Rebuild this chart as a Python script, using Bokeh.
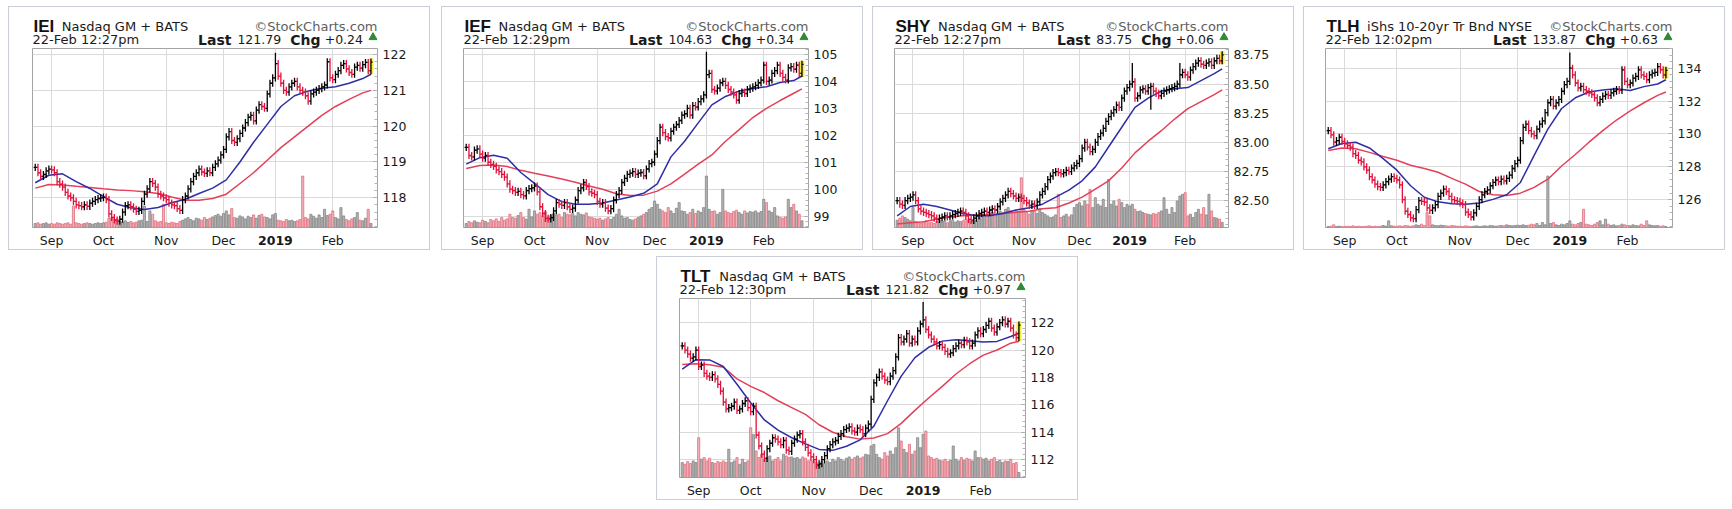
from bokeh.plotting import figure
from bokeh.models import (Range1d, FixedTicker, SingleIntervalTicker, NumeralTickFormatter,
                          Spacer, ColumnDataSource)
from bokeh.layouts import row, column
from bokeh.embed import file_html
from bokeh.resources import INLINE
from bokeh.core.properties import value

# ---------------- data ----------------
# trading-day index 0..123  (24-Aug-2018 .. 22-Feb-2019)
MONTH_TICKS = [6, 25, 48, 69, 88, 109]
MONTH_LABELS = ["Sep", "Oct", "Nov", "Dec", "2019", "Feb"]
MA_IDX = [0, 5, 10, 15, 20, 25, 30, 35, 40, 45, 50, 55, 60, 65, 70, 75, 80, 85, 90, 95,
          100, 105, 110, 115, 120, 123]

IEI_CLOSE = [118.85, 118.70, 118.60, 118.65, 118.75, 118.80,
             118.78, 118.70, 118.45, 118.38, 118.30, 118.15, 118.05, 118.00, 117.90, 117.80,
             117.78, 117.75, 117.80, 117.76, 117.85, 117.90, 117.95, 117.98, 118.00,
             118.02, 117.95, 117.55, 117.45, 117.38, 117.35, 117.40, 117.60, 117.78, 117.80,
             117.75, 117.68, 117.62, 117.65, 117.90, 118.10, 118.25, 118.45, 118.40, 118.30,
             118.10, 118.05, 118.00,
             117.95, 117.85, 117.80, 117.78, 117.70, 117.65, 117.95, 118.05, 118.25, 118.45,
             118.60, 118.70, 118.80, 118.72, 118.68, 118.75, 118.70, 118.85, 118.95, 119.05, 119.20,
             119.35, 119.70, 119.85, 119.60, 119.55, 119.65, 119.80, 119.95, 120.10, 120.25,
             120.30, 120.15, 120.45, 120.60, 120.55, 120.50, 120.90, 121.20, 121.35,
             121.75, 121.40, 121.20, 121.00, 120.95, 121.10, 121.20, 121.25, 121.10, 121.00,
             120.95, 120.85, 120.70, 120.90, 120.95, 121.00, 121.05, 121.10, 121.15, 121.80, 121.35,
             121.30, 121.45, 121.55, 121.70, 121.75, 121.60, 121.50, 121.45, 121.65, 121.70,
             121.62, 121.72, 121.78, 121.55, 121.79]
IEI_VOL = [120, 140, 100, 120, 140, 100,
           120, 100, 140, 120, 100, 120, 140, 100, 650, 140, 120, 100, 120, 140, 120, 100, 120, 140, 120,
           140, 160, 280, 300, 240, 260, 180, 160, 200, 150, 180, 140, 160, 200, 220, 650, 180, 500,
           400, 200, 160, 180, 700,
           140, 120, 160, 140, 120, 180, 220, 260, 300, 240, 200, 280, 260, 220, 300, 240, 280, 320,
           360, 400, 340,
           420, 500, 380, 570, 300, 280, 350, 320, 260, 340, 300, 380, 280, 360, 400, 320, 300, 260, 380,
           420, 220, 200, 180, 240, 200, 220, 180, 200, 240, 1550, 300, 260, 400, 340, 280, 380, 300,
           550, 360, 400,
           500, 300, 260, 600, 350, 240, 200, 260, 300, 450, 220, 200, 280, 550, 120]
IEI_MA20 = [118.42, 118.63, 118.67, 118.45, 118.26, 118.03, 117.82, 117.72, 117.67, 117.73,
            117.86, 117.96, 118.12, 118.27, 118.50, 119.00, 119.55, 120.05, 120.55, 120.85,
            120.98, 121.06, 121.10, 121.20, 121.33, 121.45]
IEI_MA50 = [118.27, 118.37, 118.36, 118.32, 118.29, 118.25, 118.22, 118.20, 118.17, 118.12,
            118.02, 117.93, 117.93, 117.98, 118.10, 118.40, 118.70, 119.05, 119.40, 119.70,
            120.00, 120.30, 120.55, 120.75, 120.93, 121.00]
IEI_SPIKES = {88: 122.05}

IEF_CLOSE = [101.55, 101.25, 101.20, 101.45, 101.50, 101.30,
             101.15, 101.25, 101.00, 100.92, 100.85, 100.72, 100.65, 100.55, 100.45, 100.20,
             100.00, 99.95, 99.88, 99.92, 99.80, 99.75, 99.95, 100.02, 100.05,
             100.12, 99.90, 99.35, 99.10, 98.92, 98.90, 98.95, 99.20, 99.50, 99.45, 99.40, 99.50,
             99.35, 99.25, 99.30, 99.60, 99.95, 100.05, 100.25, 100.10, 99.90, 99.85, 99.80,
             99.55, 99.45, 99.50, 99.30, 99.20, 99.28, 99.60, 99.80, 99.95, 100.25, 100.40, 100.55,
             100.60, 100.65, 100.55, 100.60, 100.62, 100.50, 100.75, 100.95, 101.00,
             101.30, 101.80, 102.30, 102.10, 101.95, 101.90, 102.15, 102.30, 102.40, 102.55,
             102.75, 102.80, 103.00, 102.75, 103.10, 103.05, 103.25, 103.35, 103.50,
             104.25, 104.30, 103.70, 103.65, 103.75, 103.95, 104.00, 103.85, 103.70, 103.60,
             103.50, 103.30, 103.55, 103.60, 103.55, 103.70, 103.75, 103.80, 103.85, 103.95, 104.05,
             104.60, 104.00, 104.05, 104.30, 104.40, 104.60, 104.30, 104.15, 104.05, 104.50,
             104.55, 104.45, 104.60, 104.30, 104.63]
IEF_VOL = [120, 180, 140, 200, 160, 140,
           220, 180, 140, 240, 200, 260, 180, 300, 220, 260, 400, 300, 280, 360, 450, 300, 250, 550, 320,
           500, 400, 450, 350, 480, 300, 360, 420, 380, 400, 300, 450, 400, 380, 420, 350, 450, 400,
           380, 440, 320, 300, 280,
           250, 280, 220, 260, 300, 240, 300, 400, 550, 350, 280, 300, 240, 220, 260, 300, 350, 400,
           450, 550, 600,
           800, 700, 550, 500, 450, 600, 500, 420, 580, 750, 500, 480, 400, 450, 550, 420, 500, 450, 600,
           1550, 550, 480, 500, 400, 450, 1150, 500, 450, 420, 480, 520, 450, 400, 500, 440, 480, 460,
           500, 440, 480,
           850, 750, 500, 450, 600, 350, 300, 280, 320, 850, 600, 700, 500, 400, 200]
IEF_MA20 = [100.93, 101.17, 101.26, 101.15, 100.62, 100.22, 99.80, 99.54, 99.44, 99.44,
            99.49, 99.60, 99.71, 99.85, 100.20, 101.20, 101.78, 102.46, 103.13, 103.44,
            103.64, 103.74, 103.80, 103.96, 104.03, 104.20]
IEF_MA50 = [100.77, 100.88, 100.90, 100.84, 100.70, 100.59, 100.49, 100.38, 100.26, 100.12,
            100.00, 99.83, 99.77, 99.78, 99.93, 100.20, 100.56, 100.93, 101.27, 101.78,
            102.21, 102.66, 103.00, 103.29, 103.56, 103.72]
IEF_SPIKES = {88: 105.10}

SHY_CLOSE = [82.50, 82.47, 82.46, 82.50, 82.52, 82.53,
             82.55, 82.50, 82.43, 82.41, 82.40, 82.39, 82.38, 82.37, 82.35, 82.34, 82.35, 82.36,
             82.37, 82.36, 82.37, 82.38, 82.39, 82.40, 82.41,
             82.40, 82.37, 82.34, 82.33, 82.35, 82.37, 82.39, 82.40, 82.41, 82.40, 82.42, 82.43,
             82.42, 82.45, 82.49, 82.52, 82.55, 82.58, 82.56, 82.54, 82.52, 82.53, 82.52,
             82.50, 82.48, 82.46, 82.47, 82.46, 82.49, 82.55, 82.58, 82.62, 82.68, 82.71, 82.74,
             82.75, 82.74, 82.73, 82.74, 82.76, 82.75, 82.78, 82.80, 82.82,
             82.86, 82.95, 83.00, 82.96, 82.92, 82.94, 83.00, 83.05, 83.08, 83.12, 83.18, 83.22,
             83.25, 83.28, 83.32, 83.30, 83.38, 83.44, 83.47,
             83.50, 83.52, 83.38, 83.40, 83.45, 83.46, 83.44, 83.47, 83.48, 83.44, 83.42, 83.40,
             83.42, 83.44, 83.45, 83.46, 83.47, 83.48, 83.50, 83.58, 83.60,
             83.58, 83.56, 83.62, 83.65, 83.68, 83.70, 83.67, 83.66, 83.68, 83.69, 83.66, 83.70,
             83.72, 83.70, 83.75]
SHY_VOL = [220, 280, 350, 300, 250, 200,
           600, 180, 150, 120, 180, 200, 140, 160, 120, 180, 220, 150, 200, 140, 180, 220, 160, 200, 180,
           200, 250, 220, 180, 240, 200, 300, 350, 400, 380, 420, 450, 350, 400, 500, 450, 550, 600,
           500, 450, 520, 480, 1500,
           550, 450, 400, 480, 500, 420, 580, 450, 400, 350, 300, 320, 380, 1000, 300, 350, 400, 320,
           380, 600, 700,
           750, 650, 800, 700, 1150, 600, 900, 700, 650, 850, 600, 1450, 700, 800, 650, 850, 750, 600, 700,
           650, 700, 550, 480, 500, 450, 420, 400, 380, 420, 400, 450, 500, 900, 550, 400, 600, 450,
           800, 950, 1000,
           1050, 350, 400, 300, 450, 550, 400, 600, 380, 1000, 500, 300, 280, 250, 150]
SHY_MA20 = [82.37, 82.45, 82.47, 82.45, 82.42, 82.39, 82.37, 82.37, 82.39, 82.42,
            82.44, 82.47, 82.53, 82.59, 82.67, 82.79, 82.96, 83.13, 83.30, 83.38,
            83.44, 83.46, 83.47, 83.53, 83.59, 83.63]
SHY_MA50 = [82.30, 82.31, 82.32, 82.34, 82.36, 82.37, 82.38, 82.38, 82.39, 82.40,
            82.41, 82.43, 82.44, 82.48, 82.53, 82.60, 82.67, 82.78, 82.91, 83.01,
            83.10, 83.20, 83.29, 83.35, 83.41, 83.45]
SHY_SPIKES = {89: 83.68, 96: 83.28, 107: 83.68}

TLH_CLOSE = [130.20, 129.95, 129.50, 129.60, 129.80, 129.55,
             129.40, 129.30, 129.20, 128.80, 128.70, 128.40, 128.30, 128.00, 127.80, 127.40,
             127.20, 126.95, 126.80, 126.75, 126.90, 127.10, 127.25, 127.40, 127.30,
             127.20, 126.90, 126.00, 125.30, 125.10, 124.90, 124.85, 125.40, 125.95, 125.90,
             125.85, 125.50, 125.35, 125.50, 125.70, 126.20, 126.40, 126.65, 126.50, 126.20,
             126.00, 125.95, 125.90,
             125.80, 125.70, 125.25, 125.10, 124.95, 125.20, 125.60, 126.00, 126.30, 126.50,
             126.60, 126.85, 127.05, 127.20, 127.10, 127.25, 127.15, 127.30, 127.50, 127.90, 128.20,
             128.40, 129.60, 130.40, 130.60, 130.20, 130.00, 129.90, 130.30, 130.60, 130.80,
             131.30, 131.90, 132.10, 131.70, 131.90, 132.10, 132.60, 133.00, 133.20,
             134.00, 133.60, 133.10, 132.80, 132.90, 132.70, 132.60, 132.50, 132.40, 132.20,
             131.90, 132.10, 132.30, 132.40, 132.35, 132.50, 132.60, 132.70, 132.65, 133.90, 133.20,
             133.00, 133.10, 133.40, 133.50, 133.90, 133.60, 133.50, 133.30, 133.60, 133.70,
             133.75, 134.10, 133.90, 133.60, 133.87]
TLH_VOL = [30, 40, 80, 30, 40, 30,
           30, 40, 30, 50, 30, 40, 30, 30, 40, 50, 30, 40, 30, 40, 60, 40, 200, 50, 40,
           40, 50, 40, 60, 50, 40, 50, 80, 60, 100, 60, 450, 350, 80, 60, 50, 70, 60, 50, 40, 60, 50, 40,
           40, 30, 50, 40, 30, 40, 50, 30, 40, 50, 40, 60, 50, 40, 50, 60, 50, 80, 60, 50, 60,
           70, 60, 80, 60, 70, 100, 80, 120, 60, 150, 80, 1550, 120, 150, 80, 60, 100, 80, 120,
           200, 100, 80, 120, 150, 550, 100, 80, 60, 100, 150, 200, 80, 250, 100, 60, 80, 50, 60, 100, 80,
           60, 50, 80, 60, 50, 100, 60, 200, 80, 60, 50, 60, 40, 50, 30]
TLH_MA20 = [129.10, 129.42, 129.50, 129.15, 128.50, 127.80, 126.85, 126.15, 125.87, 125.75,
            125.72, 125.80, 126.02, 126.30, 127.05, 128.70, 130.30, 131.55, 132.20, 132.55,
            132.68, 132.75, 132.65, 132.88, 133.04, 133.30]
TLH_MA50 = [128.99, 129.15, 129.10, 128.88, 128.63, 128.40, 128.10, 127.90, 127.67, 127.30,
            126.95, 126.50, 126.30, 126.26, 126.40, 126.75, 127.25, 128.05, 128.75, 129.50,
            130.20, 130.85, 131.40, 131.90, 132.35, 132.55]
TLH_SPIKES = {88: 134.95}

TLT_CLOSE = [120.30, 120.00, 119.70, 119.40, 119.50, 120.00,
             118.80, 118.90, 118.30, 118.10, 118.00, 118.20, 117.90, 117.50, 117.00, 116.20,
             115.70, 115.80, 115.90, 116.20, 115.60, 115.70, 116.10, 116.30, 115.80,
             115.50, 115.90, 113.80, 113.00, 112.40, 112.10, 112.80, 113.20, 113.60, 113.50,
             113.30, 113.10, 113.40, 112.70, 112.60, 113.20, 113.50, 113.80, 113.90, 113.30,
             112.90, 112.50, 112.20,
             112.00, 111.60, 111.70, 112.00, 112.30, 112.80, 113.10, 113.30, 113.40, 113.70,
             113.90, 114.20, 114.30, 114.40, 114.10, 114.00, 114.30, 114.20, 113.90, 114.30, 114.60,
             116.40, 117.60, 118.00, 118.40, 118.10, 117.80, 117.70, 118.10, 118.50, 119.50,
             120.90, 120.60, 120.80, 121.20, 120.50, 120.80, 120.60, 121.40, 121.90,
             122.20, 121.50, 121.10, 120.80, 120.60, 120.30, 120.40, 120.20, 119.90, 119.70,
             119.80, 120.10, 120.30, 120.50, 120.40, 120.70, 120.60, 120.30, 120.50, 121.10, 121.40,
             121.20, 121.50, 121.80, 122.10, 121.60, 121.30, 121.70, 122.00, 122.20, 121.90,
             122.10, 121.60, 121.10, 120.90, 121.82]
TLT_VOL = [450, 400, 480, 420, 500, 450,
           1200, 550, 600, 500, 580, 450, 420, 480, 450, 500, 450, 850, 450, 500, 600, 400, 550, 450, 500,
           1500, 1300, 800, 600, 700, 550, 600, 650, 500, 550, 600, 500, 700, 650, 600, 620, 580, 600,
           550, 620, 580, 500, 520,
           500, 450, 400, 480, 420, 500, 450, 550, 500, 600, 550, 500, 580, 620, 550, 600, 650, 580,
           620, 700, 680,
           950, 1000, 700, 600, 550, 750, 650, 800, 700, 900, 1500, 1100, 850, 750, 1000, 700, 800, 1200, 900,
           1300, 1400, 650, 600, 550, 580, 520, 500, 550, 480, 520, 950, 550, 500, 600, 520, 580, 550,
           500, 800, 600,
           600, 550, 580, 500, 550, 600, 480, 520, 450, 500, 480, 550, 420, 450, 150]
TLT_MA20 = [118.60, 119.30, 119.28, 118.80, 117.50, 116.15, 114.90, 114.15, 113.60, 113.15,
            112.75, 112.68, 112.98, 113.45, 114.45, 116.30, 118.10, 119.45, 120.20, 120.65,
            120.75, 120.68, 120.58, 120.63, 120.99, 121.23]
TLT_MA50 = [118.94, 119.00, 118.92, 118.75, 117.90, 117.35, 116.90, 116.30, 115.80, 115.30,
            114.55, 114.00, 113.67, 113.50, 113.58, 113.90, 114.65, 115.60, 116.50, 117.35,
            118.25, 119.00, 119.63, 120.00, 120.50, 120.63]
TLT_SPIKES = {88: 123.50}

CHARTS = [
    dict(ticker="IEI", exch="Nasdaq GM + BATS", stamp="22-Feb 12:27pm", last="121.79", chg="+0.24",
         close=IEI_CLOSE, vol=IEI_VOL, ma20=IEI_MA20, ma50=IEI_MA50, spikes=IEI_SPIKES,
         yr=(117.17, 122.17), ystep=1, yfmt="0"),
    dict(ticker="IEF", exch="Nasdaq GM + BATS", stamp="22-Feb 12:29pm", last="104.63", chg="+0.34",
         close=IEF_CLOSE, vol=IEF_VOL, ma20=IEF_MA20, ma50=IEF_MA50, spikes=IEF_SPIKES,
         yr=(98.58, 105.22), ystep=1, yfmt="0"),
    dict(ticker="SHY", exch="Nasdaq GM + BATS", stamp="22-Feb 12:27pm", last="83.75", chg="+0.06",
         close=SHY_CLOSE, vol=SHY_VOL, ma20=SHY_MA20, ma50=SHY_MA50, spikes=SHY_SPIKES,
         yr=(82.27, 83.805), ystep=0.25, yfmt="0.00"),
    dict(ticker="TLH", exch="iShs 10-20yr Tr Bnd NYSE", stamp="22-Feb 12:02pm", last="133.87", chg="+0.63",
         close=TLH_CLOSE, vol=TLH_VOL, ma20=TLH_MA20, ma50=TLH_MA50, spikes=TLH_SPIKES,
         yr=(124.31, 135.20), ystep=2, yfmt="0"),
    dict(ticker="TLT", exch="Nasdaq GM + BATS", stamp="22-Feb 12:30pm", last="121.82", chg="+0.97",
         close=TLT_CLOSE, vol=TLT_VOL, ma20=TLT_MA20, ma50=TLT_MA50, spikes=TLT_SPIKES,
         yr=(110.70, 123.76), ystep=2, yfmt="0"),
]

for c in CHARTS:
    assert len(c["close"]) == 124 and len(c["vol"]) == 124, c["ticker"]
    assert len(c["ma20"]) == len(MA_IDX) and len(c["ma50"]) == len(MA_IDX), c["ticker"]

# ---------------- style ----------------
IN_W = 420                               # inner panel width (border drawn by 1px spacers)
HEAD_H, CHART_H, FOOT_H = 41, 180, 21    # inner heights (sum 242)
FRAME_LR = {"IEI": (23, 52), "IEF": (21, 54), "SHY": (21, 65), "TLH": (21, 52), "TLT": (22, 52)}
BORDER_BG = {"background-color": "#c9ced7"}
VOL_TOP = 5400
FONT = "DejaVu Sans"
TXT = "#1a1a1a"
UP, DOWN = "#000000", "#e0103a"
VOL_UP_FILL, VOL_UP_LINE = "#b4b4b4", "#858585"
VOL_DN_FILL, VOL_DN_LINE = "#f2b3bb", "#e0707e"
BLUE, RED = "#2e2ea6", "#e3405a"
GRID = "#dadada"
LINE1_Y, LINE2_Y, FOOT_Y = 22.5, 8.7, 8.7

ARIAL_BOLD = {"I": .278, "E": .667, "F": .611, "S": .667, "H": .722, "Y": .667, "T": .611, "L": .611}
DV_NUM = {"0": .636, "1": .636, "2": .636, "3": .636, "4": .636, "5": .636, "6": .636,
          "7": .636, "8": .636, "9": .636, ".": .318, "+": .838, "-": .838}


def txt_w(s, table, size):
    return sum(table[ch] for ch in s) * size


def blank_fig(width, height, x_range, y_range, mb_l, mb_r):
    f = figure(width=width, height=height, output_backend="svg", toolbar_location=None,
               title=None, x_range=x_range, y_range=y_range,
               x_axis_location=None, y_axis_location=None, min_border=0,
               min_border_left=mb_l, min_border_right=mb_r, min_border_top=0, min_border_bottom=0,
               background_fill_color="white", border_fill_color="white")
    f.outline_line_color = None
    f.grid.visible = False
    return f


def put_text(f, x, y, text, size, bold=False, font=FONT, color=TXT, align="left"):
    f.text(x=[x], y=[y], text=[text], text_font=value(font), text_font_size=value(size),
           text_font_style=value("bold" if bold else "normal"), text_color=color,
           text_align=value(align), text_baseline=value("alphabetic"))


def make_panel(c):
    fl, mr = FRAME_LR[c["ticker"]]
    fr = IN_W - mr
    ylo, yhi = c["yr"]
    xr = Range1d(-1.0, 125.4)

    # ---------- header (x and y in pixels of the inner panel, y up from header bottom) ----------
    h = blank_fig(IN_W, HEAD_H, Range1d(fl, fr), Range1d(0, HEAD_H), fl, mr)
    put_text(h, fl + 1, LINE1_Y, c["ticker"], "17px", bold=True, font="Liberation Sans", color="#111111")
    put_text(h, fl + 1 + txt_w(c["ticker"], ARIAL_BOLD, 17) + 7.5, LINE1_Y, c["exch"], "13px")
    put_text(h, fr, LINE1_Y, "\u00a9StockCharts.com", "13px", color="#5e5e5e", align="right")
    put_text(h, fl, LINE2_Y, c["stamp"], "13px")
    h.scatter(x=[fr - 4.5], y=[LINE2_Y + 2.5], marker="triangle", size=8,
              fill_color="#2f8a35", line_color="#2f8a35")
    x = fr - 14.5
    put_text(h, x, LINE2_Y, c["chg"], "12.5px", align="right")
    x -= txt_w(c["chg"], DV_NUM, 12.5) + 4.3
    put_text(h, x, LINE2_Y, "Chg", "14px", bold=True, align="right")
    x -= 2.162 * 14 + 9
    put_text(h, x, LINE2_Y, c["last"], "12.5px", align="right")
    x -= txt_w(c["last"], DV_NUM, 12.5) + 6
    put_text(h, x, LINE2_Y, "Last", "14px", bold=True, align="right")

    # ---------- chart ----------
    p = figure(width=IN_W, height=CHART_H, output_backend="svg", toolbar_location=None,
               title=None, x_range=xr, y_range=Range1d(ylo, yhi),
               x_axis_location=None, y_axis_location="right", min_border=0,
               min_border_left=fl, min_border_right=mr, min_border_top=0, min_border_bottom=1,
               background_fill_color="white", border_fill_color="white")
    p.outline_line_color = "#a3a3a3"

    close = c["close"]
    n = len(close)
    idx = list(range(n))
    opn = [close[0]] + close[:-1]
    pad = 0.02 * (yhi - ylo)
    lo = [min(o, cl) - pad for o, cl in zip(opn, close)]
    hi = [max(o, cl) + pad for o, cl in zip(opn, close)]
    for i, v in c["spikes"].items():
        if v > hi[i]:
            hi[i] = v
        elif v < lo[i]:
            lo[i] = v
    up = [cl >= o for o, cl in zip(opn, close)]

    p.extra_y_ranges = {"vol": Range1d(0, VOL_TOP)}
    vsrc = ColumnDataSource(dict(x=idx, top=c["vol"],
                                 fill=[VOL_UP_FILL if u else VOL_DN_FILL for u in up],
                                 line=[VOL_UP_LINE if u else VOL_DN_LINE for u in up]))
    p.vbar(x="x", top="top", bottom=0, width=0.78, source=vsrc, y_range_name="vol",
           fill_color="fill", line_color="line", line_width=0.8)

    p.quad(left=[n - 1 - 0.9], right=[n - 1 + 0.9], bottom=[lo[-1]], top=[hi[-1]],
           fill_color="#f4ef3e", line_color=None)

    p.line(MA_IDX, c["ma50"], line_color=RED, line_width=1.5)
    p.line(MA_IDX, c["ma20"], line_color=BLUE, line_width=1.5)

    col = [UP if u else DOWN for u in up]
    bsrc = ColumnDataSource(dict(x=idx, lo=lo, hi=hi, o=opn, c=close, col=col,
                                 xl=[i - 0.6 for i in idx], xr=[i + 0.6 for i in idx]))
    p.segment(x0="x", y0="lo", x1="x", y1="hi", line_color="col", line_width=1.3, source=bsrc)
    p.segment(x0="xl", y0="o", x1="x", y1="o", line_color="col", line_width=1.3, source=bsrc)
    p.segment(x0="x", y0="c", x1="xr", y1="c", line_color="col", line_width=1.3, source=bsrc)

    p.xgrid.ticker = FixedTicker(ticks=MONTH_TICKS)
    p.xgrid.grid_line_color = GRID
    p.ygrid.grid_line_color = GRID

    ya = p.yaxis[0]
    ya.ticker = SingleIntervalTicker(interval=c["ystep"], num_minor_ticks=5)
    ya.formatter = NumeralTickFormatter(format=c["yfmt"])
    ya.axis_line_color = None
    ya.major_tick_in = 4
    ya.major_tick_out = 0
    ya.minor_tick_in = 3
    ya.minor_tick_out = 0
    ya.major_tick_line_color = "#9a9a9a"
    ya.minor_tick_line_color = "#b5b5b5"
    ya.major_label_standoff = 5
    ya.major_label_text_font = FONT
    ya.major_label_text_font_size = "12.5px"
    ya.major_label_text_color = TXT

    # ---------- footer: month labels on the shared x scale ----------
    f = blank_fig(IN_W, FOOT_H, xr, Range1d(0, FOOT_H), fl, mr)
    fsrc = ColumnDataSource(dict(x=MONTH_TICKS, text=MONTH_LABELS,
                                 style=["bold" if l == "2019" else "normal" for l in MONTH_LABELS]))
    f.text(x="x", y=FOOT_Y, text="text", source=fsrc, text_font=value(FONT),
           text_font_size=value("12.5px"), text_font_style="style", text_color=TXT,
           text_align=value("center"), text_baseline=value("alphabetic"))

    inner_h = HEAD_H + CHART_H + FOOT_H
    return column(
        Spacer(width=IN_W + 2, height=1, styles=BORDER_BG),
        row(Spacer(width=1, height=inner_h, styles=BORDER_BG),
            column(h, p, f),
            Spacer(width=1, height=inner_h, styles=BORDER_BG)),
        Spacer(width=IN_W + 2, height=1, styles=BORDER_BG),
    )


panels = [make_panel(c) for c in CHARTS]
top = row(Spacer(width=8), panels[0], Spacer(width=11), panels[1], Spacer(width=9), panels[2],
          Spacer(width=9), panels[3])
bottom = row(Spacer(width=656), panels[4])
layout = column(Spacer(height=6), top, Spacer(height=6), bottom)

open("out.html", "w").write(file_html(layout, INLINE))
